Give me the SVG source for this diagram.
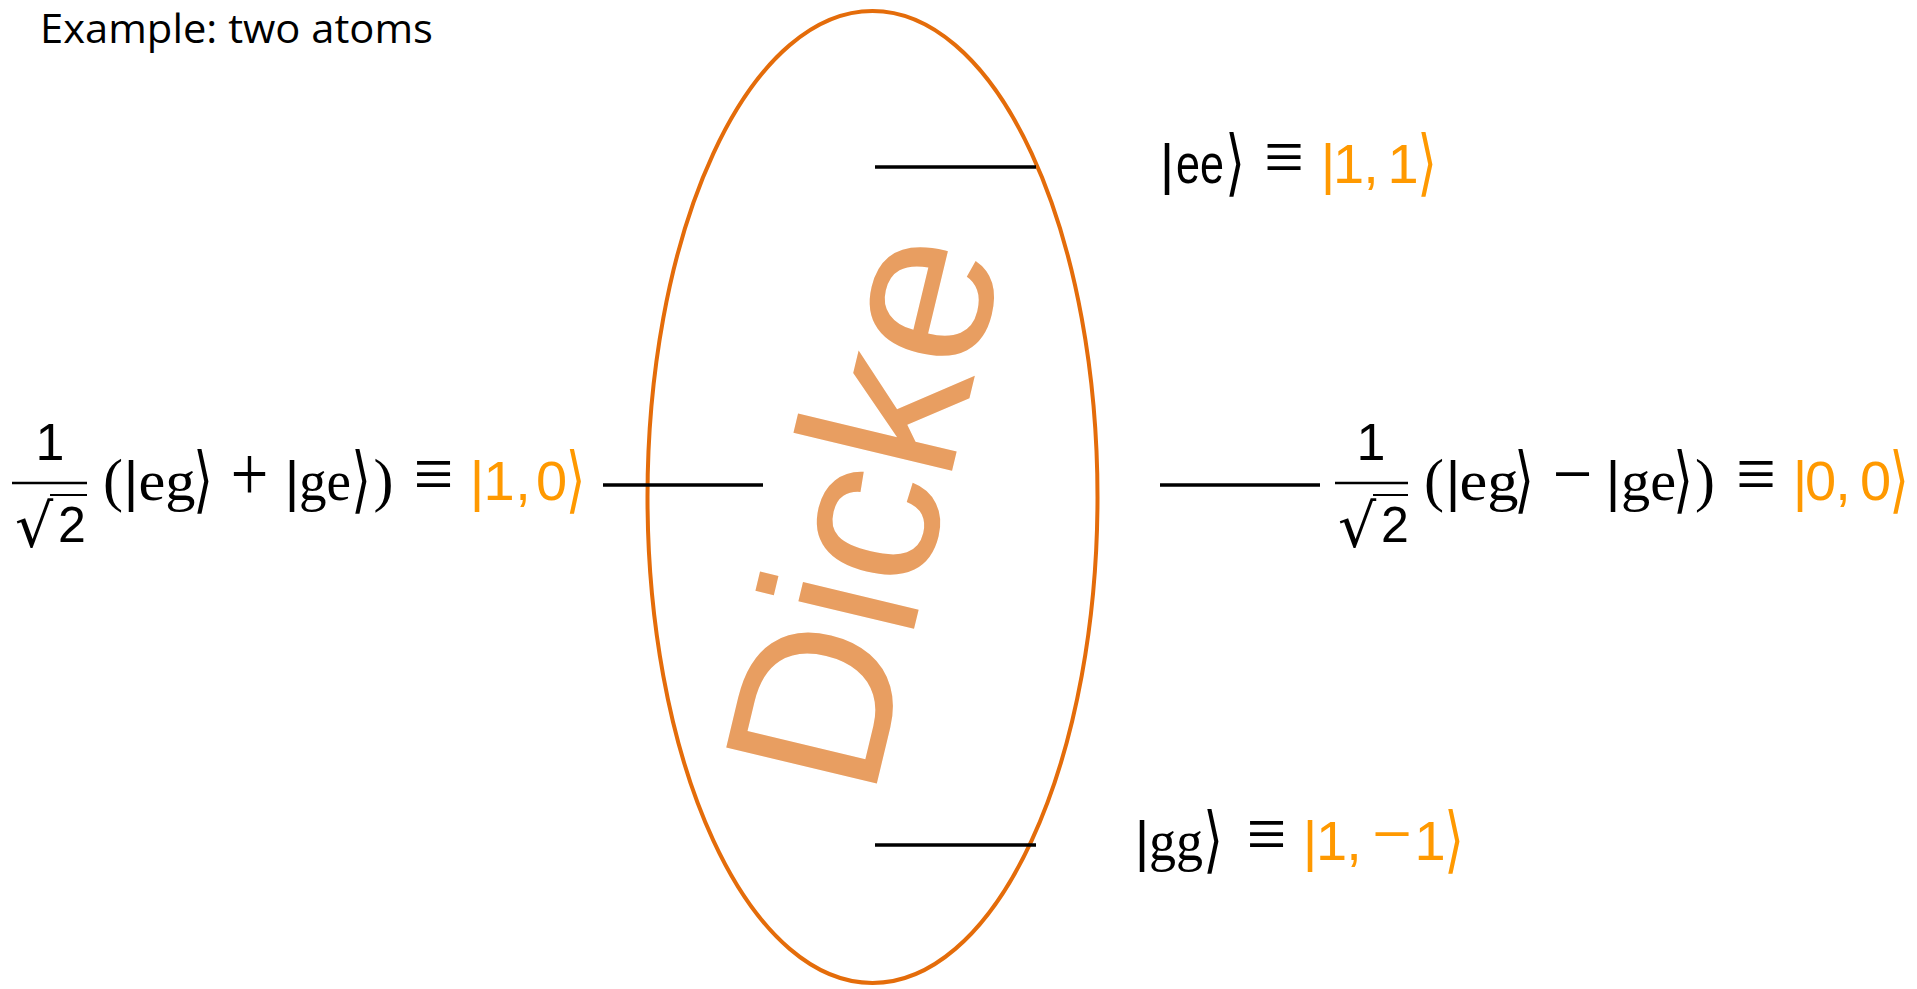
<svg xmlns="http://www.w3.org/2000/svg" width="1917" height="989" viewBox="0 0 1917 989">
<style>
.t{font-family:"Liberation Sans",Arial,sans-serif;fill:#000;text-anchor:middle}
.s{font-family:"DejaVu Sans",sans-serif;fill:#000;text-anchor:middle}
.a{font-family:"DejaVu Sans",sans-serif;fill:#000;text-anchor:middle;font-size:56px}
.r{font-family:"Liberation Serif","Times New Roman",serif;fill:#000;text-anchor:middle}
.m{font-family:"Liberation Serif","Times New Roman",serif;fill:#000;text-anchor:middle;font-size:78px}
.o{fill:#FF9900}
.lvl{stroke:#000;stroke-width:3.5}
.bar{stroke:#000;stroke-width:2.5}
.bar2{stroke:#000;stroke-width:2}
</style>
<rect width="1917" height="989" fill="#fff"/>
<text id="title" x="40" y="43" font-family="Open Sans, Liberation Sans, sans-serif" font-size="41" textLength="393" lengthAdjust="spacingAndGlyphs">Example: two atoms</text>

<g id="dicke">
<ellipse cx="872.5" cy="497" rx="225" ry="486" fill="none" stroke="#E46C0A" stroke-width="4"/>
<text transform="translate(872.6,801.4) rotate(-76.5)" font-family="Liberation Sans, Arial, sans-serif" font-size="225" fill="#E89E61">Dicke</text>
</g>

<g id="levels">
<line class="lvl" x1="875" y1="167" x2="1036" y2="167"/>
<line class="lvl" x1="875" y1="845" x2="1036" y2="845"/>
<line class="lvl" x1="603" y1="485" x2="763" y2="485" stroke-width="4"/>
<line class="lvl" x1="1160" y1="485" x2="1320" y2="485" stroke-width="5"/>
</g>

<g id="state-ee" font-size="56">
<text class="t" x="1167" y="183">|</text>
<text class="t" x="1200" y="183" textLength="48" lengthAdjust="spacingAndGlyphs">ee</text>
<text class="a" transform="translate(1235,187) scale(0.9,1.3)">⟩</text>
<text class="m" x="1284" y="183" textLength="40" lengthAdjust="spacingAndGlyphs">≡</text>
<text class="t o" x="1328" y="183">|</text>
<text class="t o" x="1348.5" y="183">1</text>
<text class="t o" x="1371" y="183">,</text>
<text class="t o" x="1403" y="183">1</text>
<text class="a o" transform="translate(1427,187) scale(0.9,1.3)">⟩</text>
</g>

<g id="state-gg" font-size="56">
<text class="t" x="1142" y="860">|</text>
<text class="r" x="1176" y="860" textLength="54" lengthAdjust="spacingAndGlyphs">gg</text>
<text class="a" transform="translate(1213,864) scale(0.9,1.3)">⟩</text>
<text class="m" x="1266.5" y="860" textLength="40" lengthAdjust="spacingAndGlyphs">≡</text>
<text class="t o" x="1310" y="860">|</text>
<text class="t o" x="1331.5" y="860">1</text>
<text class="t o" x="1354" y="860">,</text>
<text class="m o" x="1392" y="860" textLength="40" lengthAdjust="spacingAndGlyphs">−</text>
<text class="t o" x="1430" y="860">1</text>
<text class="a o" transform="translate(1454,864) scale(0.9,1.3)">⟩</text>
</g>

<g id="state-10" font-size="56">
<text class="t" x="50" y="460" font-size="52">1</text>
<line class="bar" x1="12" y1="483" x2="87" y2="483"/>
<text class="s" x="34" y="547" font-size="60">√</text>
<line class="bar2" x1="50" y1="495" x2="87" y2="495"/>
<text class="t" x="72" y="542" font-size="50">2</text>
<text class="r" x="113" y="500" font-size="60">(</text>
<text class="t" x="131" y="500">|</text>
<text class="r" x="167" y="500" textLength="57" lengthAdjust="spacingAndGlyphs">eg</text>
<text class="a" transform="translate(203,504) scale(0.9,1.3)">⟩</text>
<text class="m" x="249.5" y="500" textLength="38" lengthAdjust="spacingAndGlyphs">+</text>
<text class="t" x="292" y="500">|</text>
<text class="r" x="325" y="500" textLength="52" lengthAdjust="spacingAndGlyphs">ge</text>
<text class="a" transform="translate(361,504) scale(0.9,1.3)">⟩</text>
<text class="r" x="383.5" y="500" font-size="60">)</text>
<text class="m" x="433.5" y="500" textLength="40" lengthAdjust="spacingAndGlyphs">≡</text>
<text class="t o" x="477" y="500">|</text>
<text class="t o" x="499" y="500">1</text>
<text class="t o" x="523" y="500">,</text>
<text class="t o" x="551.5" y="500">0</text>
<text class="a o" transform="translate(575.5,504) scale(0.9,1.3)">⟩</text>
</g>

<g id="state-00" font-size="56">
<text class="t" x="1371" y="460" font-size="52">1</text>
<line class="bar" x1="1335" y1="483" x2="1408" y2="483"/>
<text class="s" x="1357" y="547" font-size="60">√</text>
<line class="bar2" x1="1373" y1="495" x2="1408" y2="495"/>
<text class="t" x="1395" y="542" font-size="50">2</text>
<text class="r" x="1434" y="500" font-size="60">(</text>
<text class="t" x="1453" y="500">|</text>
<text class="r" x="1489" y="500" textLength="59" lengthAdjust="spacingAndGlyphs">eg</text>
<text class="a" transform="translate(1524,504) scale(0.9,1.3)">⟩</text>
<text class="m" x="1572.5" y="500" textLength="40" lengthAdjust="spacingAndGlyphs">−</text>
<text class="t" x="1613" y="500">|</text>
<text class="r" x="1648.5" y="500" textLength="55" lengthAdjust="spacingAndGlyphs">ge</text>
<text class="a" transform="translate(1683,504) scale(0.9,1.3)">⟩</text>
<text class="r" x="1705" y="500" font-size="60">)</text>
<text class="m" x="1756" y="500" textLength="40" lengthAdjust="spacingAndGlyphs">≡</text>
<text class="t o" x="1800" y="500">|</text>
<text class="t o" x="1820.5" y="500">0</text>
<text class="t o" x="1843" y="500">,</text>
<text class="t o" x="1875.5" y="500">0</text>
<text class="a o" transform="translate(1899,504) scale(0.9,1.3)">⟩</text>
</g>
</svg>
